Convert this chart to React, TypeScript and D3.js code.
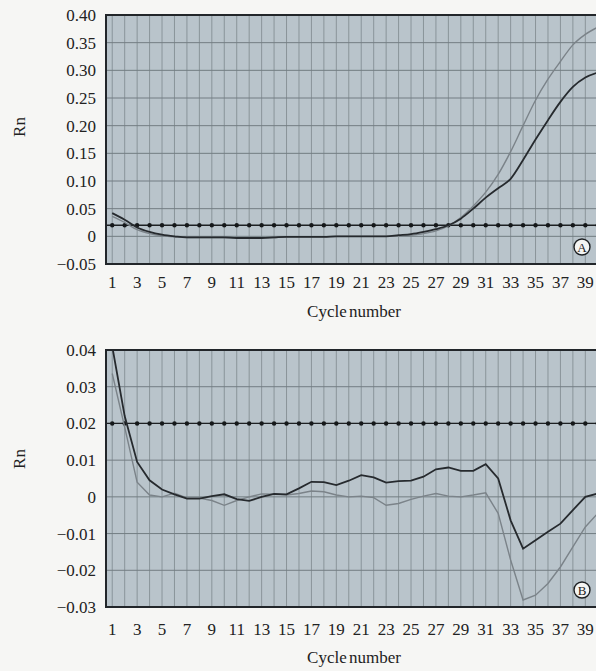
import { useEffect, useRef } from "react";
import * as d3 from "d3";

// cycle numbers on the x axis
const cycles = [
  1, 2, 3, 4, 5, 6, 7, 8, 9, 10, 11, 12, 13, 14, 15, 16, 17, 18, 19, 20,
  21, 22, 23, 24, 25, 26, 27, 28, 29, 30, 31, 32, 33, 34, 35, 36, 37, 38, 39, 40,
];
const xTicks = [1, 3, 5, 7, 9, 11, 13, 15, 17, 19, 21, 23, 25, 27, 29, 31, 33, 35, 37, 39];

// panel A
const yTicksA = [-0.05, 0, 0.05, 0.1, 0.15, 0.2, 0.25, 0.3, 0.35, 0.4];
const thresholdA = 0.02;
const darkA = [
  0.042, 0.030, 0.016, 0.008, 0.003, 0.000, -0.002, -0.002, -0.002, -0.002,
  -0.003, -0.003, -0.003, -0.002, -0.001, -0.001, -0.001, -0.001, 0.000, 0.000,
  0.000, 0.000, 0.000, 0.002, 0.004, 0.008, 0.013, 0.020, 0.032, 0.050,
  0.070, 0.087, 0.104, 0.138, 0.175, 0.210, 0.243, 0.270, 0.287, 0.296,
];
const greyA = [
  0.036, 0.025, 0.012, 0.005, 0.001, -0.001, -0.002, -0.002, -0.002, -0.002,
  -0.003, -0.003, -0.003, -0.002, -0.001, -0.001, -0.001, -0.001, 0.000, 0.000,
  0.000, 0.000, 0.000, 0.000, 0.002, 0.005, 0.010, 0.019, 0.034, 0.055,
  0.080, 0.112, 0.153, 0.200, 0.246, 0.284, 0.316, 0.346, 0.365, 0.378,
];

// panel B
const yTicksB = [-0.03, -0.02, -0.01, 0, 0.01, 0.02, 0.03, 0.04];
const thresholdB = 0.02;
const darkB = [
  0.041, 0.022, 0.0095, 0.0045, 0.002, 0.0007, -0.0005, -0.0005, 0.0002, 0.0007,
  -0.0006, -0.0011, 0.0, 0.0008, 0.0007, 0.0023, 0.0041, 0.004, 0.0032, 0.0044,
  0.0059, 0.0053, 0.0039, 0.0043, 0.0044, 0.0055, 0.0075, 0.008, 0.0071, 0.0071,
  0.0089, 0.005, -0.0064, -0.0141, -0.0118, -0.0095, -0.0073, -0.0036, 0.0, 0.0009,
];
const greyB = [
  0.0336, 0.019, 0.004, 0.0005, 0.0, 0.001, -0.0003, -0.0003, -0.001, -0.0023,
  -0.001, 0.0, 0.0008, 0.0007, 0.0005, 0.0009, 0.0016, 0.0014, 0.0005, 0.0,
  0.0002, -0.0002, -0.0023, -0.0018, -0.0007, 0.0002, 0.0009, 0.0002, 0.0, 0.0005,
  0.0011, -0.0045, -0.0172, -0.0281, -0.0268, -0.0236, -0.0191, -0.0136, -0.0082, -0.0045,
];

const W = 596;
const H = 671;
const FONT = "Liberation Serif, Times New Roman, Times, serif";

type PanelOpts = {
  id: string;
  letter: string;
  top: number;
  bottom: number;
  yTicks: number[];
  threshold: number;
  dark: number[];
  grey: number[];
  smooth: boolean;
  tickY: number;
  titleY: number;
  rnY: number;
};

function fmt(v: number) {
  if (Math.abs(v) < 1e-9) return "0";
  const s = Math.abs(v).toFixed(2);
  return v < 0 ? "\u2212" + s : s;
}

function drawPanel(svg: d3.Selection<SVGSVGElement, unknown, null, undefined>, o: PanelOpts) {
  const left = 106;
  const right = 604;
  const x = d3.scaleLinear([0.5, 40.5], [left, right]);
  const yMin = o.yTicks[0];
  const yMax = o.yTicks[o.yTicks.length - 1];
  const y = d3.scaleLinear([yMin, yMax], [o.bottom, o.top]);

  const g = svg.append("g");

  g.append("clipPath")
    .attr("id", "clip" + o.id)
    .append("rect")
    .attr("x", left)
    .attr("y", o.top)
    .attr("width", right - left)
    .attr("height", o.bottom - o.top);

  // fond du graphique
  g.append("rect")
    .attr("x", left)
    .attr("y", o.top)
    .attr("width", right - left)
    .attr("height", o.bottom - o.top)
    .attr("fill", "#b9c4cb");

  // grille verticale (un trait par cycle)
  g.selectAll(".vg")
    .data(cycles)
    .join("line")
    .attr("x1", (d) => x(d))
    .attr("x2", (d) => x(d))
    .attr("y1", o.top)
    .attr("y2", o.bottom)
    .attr("stroke", "#848e94")
    .attr("stroke-width", 0.9);

  // grille horizontale
  g.selectAll(".hg")
    .data(o.yTicks)
    .join("line")
    .attr("x1", left)
    .attr("x2", right)
    .attr("y1", (d) => y(d))
    .attr("y2", (d) => y(d))
    .attr("stroke", "#737d83")
    .attr("stroke-width", 1);

  // seuil pointillé
  g.append("line")
    .attr("x1", left)
    .attr("x2", right)
    .attr("y1", y(o.threshold))
    .attr("y2", y(o.threshold))
    .attr("stroke", "#1d2023")
    .attr("stroke-width", 1.3);

  g.selectAll(".dot")
    .data(cycles)
    .join("circle")
    .attr("cx", (d) => x(d))
    .attr("cy", y(o.threshold))
    .attr("r", 2.2)
    .attr("fill", "#15181a");

  const line = d3
    .line<number>()
    .x((_, i) => x(cycles[i]))
    .y((d) => y(d))
    .curve(o.smooth ? d3.curveMonotoneX : d3.curveLinear);

  const series = g.append("g").attr("clip-path", `url(#clip${o.id})`);

  series
    .append("path")
    .attr("d", line(o.grey))
    .attr("fill", "none")
    .attr("stroke", "#7b8389")
    .attr("stroke-width", 1.4);

  series
    .append("path")
    .attr("d", line(o.dark))
    .attr("fill", "none")
    .attr("stroke", "#262a2e")
    .attr("stroke-width", 1.8);

  // cadre
  g.append("rect")
    .attr("x", left)
    .attr("y", o.top)
    .attr("width", right - left)
    .attr("height", o.bottom - o.top)
    .attr("fill", "none")
    .attr("stroke", "#22262a")
    .attr("stroke-width", 2);

  // lettre entourée
  const cx = 582;
  const cy = o.bottom - 17;
  g.append("circle")
    .attr("cx", cx)
    .attr("cy", cy)
    .attr("r", 8)
    .attr("fill", "#f4f4f2")
    .attr("stroke", "#1d2023")
    .attr("stroke-width", 1.4);
  g.append("text")
    .attr("x", cx)
    .attr("y", cy + 4.5)
    .attr("text-anchor", "middle")
    .attr("font-family", FONT)
    .attr("font-size", 13)
    .attr("fill", "#1d2023")
    .text(o.letter);

  // labels axe Y
  g.selectAll(".yl")
    .data(o.yTicks)
    .join("text")
    .attr("x", 96)
    .attr("y", (d) => y(d))
    .attr("dy", "0.35em")
    .attr("text-anchor", "end")
    .attr("font-family", FONT)
    .attr("font-size", 17)
    .attr("fill", "#222")
    .text((d) => fmt(d));

  // labels axe X
  g.selectAll(".xl")
    .data(xTicks)
    .join("text")
    .attr("x", (d) => x(d))
    .attr("y", o.tickY)
    .attr("text-anchor", "middle")
    .attr("font-family", FONT)
    .attr("font-size", 17)
    .attr("fill", "#222")
    .text((d) => d);

  g.append("text")
    .attr("x", 354)
    .attr("y", o.titleY)
    .attr("text-anchor", "middle")
    .attr("font-family", FONT)
    .attr("font-size", 17)
    .attr("word-spacing", -2)
    .attr("fill", "#222")
    .text("Cycle number");

  g.append("text")
    .attr("transform", `translate(25,${o.rnY}) rotate(-90)`)
    .attr("text-anchor", "middle")
    .attr("font-family", FONT)
    .attr("font-size", 17)
    .attr("fill", "#222")
    .text("Rn");
}

export default function App() {
  const ref = useRef<SVGSVGElement>(null);

  useEffect(() => {
    const svg = d3.select(ref.current!);
    svg.selectAll("*").remove();

    svg.append("rect").attr("width", W).attr("height", H).attr("fill", "#f6f6f4");

    drawPanel(svg, {
      id: "A",
      letter: "A",
      top: 15,
      bottom: 264,
      yTicks: yTicksA,
      threshold: thresholdA,
      dark: darkA,
      grey: greyA,
      smooth: true,
      tickY: 288,
      titleY: 317,
      rnY: 127,
    });

    drawPanel(svg, {
      id: "B",
      letter: "B",
      top: 350,
      bottom: 607,
      yTicks: yTicksB,
      threshold: thresholdB,
      dark: darkB,
      grey: greyB,
      smooth: false,
      tickY: 635,
      titleY: 663,
      rnY: 459,
    });

    return () => {
      svg.selectAll("*").remove();
    };
  }, []);

  return (
    <svg
      ref={ref}
      width={W}
      height={H}
      style={{ position: "absolute", left: 0, top: 0, display: "block" }}
    ></svg>
  );
}
